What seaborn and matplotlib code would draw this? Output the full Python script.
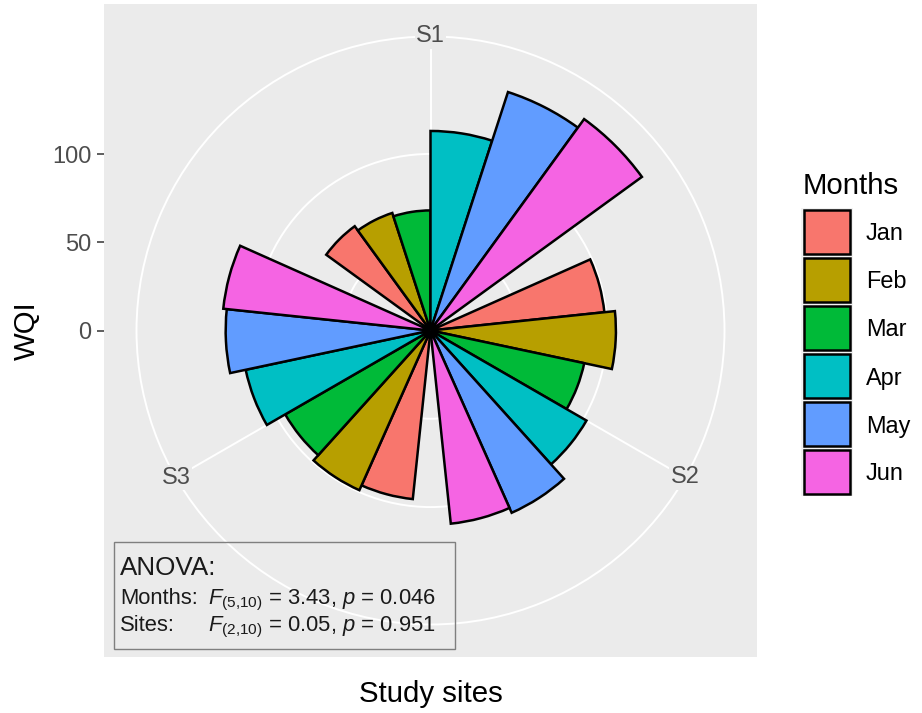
import numpy as np
import pandas as pd
import matplotlib
matplotlib.use("Agg")
import matplotlib.pyplot as plt
import seaborn as sns
from matplotlib.patches import Rectangle

# ---------------- data ----------------
sites = ["S1", "S2", "S3"]
months = ["Jan", "Feb", "Mar", "Apr", "May", "Jun"]
wqi_s1 = [73, 70, 68, 113, 142, 148]
wqi_s2 = [99, 105, 89, 102, 113, 110]
wqi_s3 = [96, 99, 95, 107, 116, 118]
month_colors = ["#F8766D", "#B79F00", "#00BA38", "#00BFC4", "#619CFF", "#F564E3"]
r_ticks = [0, 50, 100]
anova_title = "ANOVA:"
anova_labels = ["Months:", "Sites:"]
anova_stats = ["$F_{(5{,}10)}$ = 3.43, $p$ = 0.046",
               "$F_{(2{,}10)}$ = 0.05, $p$ = 0.951"]

plt.rcParams["font.family"] = ["Liberation Sans", "DejaVu Sans"]
plt.rcParams["mathtext.fontset"] = "custom"
plt.rcParams["mathtext.rm"] = "Liberation Sans"
plt.rcParams["mathtext.it"] = "Liberation Sans:italic"

# dodge width 0.9 of each site slot, as in ggplot position_dodge
slot = 360 / len(sites)
bar_w = slot * 0.9 / len(months)
rows = []
for si, (site, vals) in enumerate(zip(sites, [wqi_s1, wqi_s2, wqi_s3])):
    for mi, (m, v) in enumerate(zip(months, vals)):
        ang = (si * slot + (mi - (len(months) - 1) / 2) * bar_w) % 360
        rows.append(dict(site=site, Months=m, theta=np.deg2rad(ang), WQI=v))
df = pd.DataFrame(rows)
vmax = df["WQI"].max()
rmax = vmax * 0.45 / 0.4

W, H = 922, 713
fig = plt.figure(figsize=(W / 100, H / 100), dpi=100)
fig.patch.set_facecolor("white")


def px_axes(l, t, w, h, **kw):
    return fig.add_axes([l / W, 1 - (t + h) / H, w / W, h / H], **kw)


# panel background + radial axis labels
bg = px_axes(104, 4, 653, 653)
bg.set_facecolor("#EBEBEB")
bg.set_xlim(-0.5, 0.5)
bg.set_ylim(-0.5, 0.5)
for s in bg.spines.values():
    s.set_visible(False)
bg.set_xticks([])
bg.set_yticks([v / vmax * 0.4 for v in r_ticks])
bg.set_yticklabels([str(v) for v in r_ticks])
bg.tick_params(axis="y", length=4.7, width=1.1, color="#333333", pad=4.3,
               labelsize=17, labelcolor="#4D4D4D")

# polar bars
pax = px_axes(136.5, 36.5, 588, 588, projection="polar")
pax.set_facecolor("none")
pax.set_axisbelow(True)
pax.set_theta_zero_location("N")
pax.set_theta_direction(-1)
sns.barplot(data=df, x="theta", y="WQI", hue="Months", hue_order=months,
            palette=dict(zip(months, month_colors)), native_scale=True,
            orient="x", width=1, dodge=False, saturation=1, errorbar=None,
            edgecolor="black", linewidth=1.8, legend=False, ax=pax)
for p in pax.patches:
    p.set_zorder(2)
pax.set_ylim(0, rmax)
pax.set_xticks(np.deg2rad(np.arange(len(sites)) * slot))
pax.set_xticklabels([])
pax.set_yticks([t for t in r_ticks if t > 0])
pax.set_yticklabels([])
pax.grid(True, color="white", linewidth=1.4)
pax.xaxis.grid(True, zorder=0.5)
pax.spines["polar"].set_color("white")
pax.spines["polar"].set_linewidth(1.4)
pax.spines["polar"].set_zorder(0.5)
pax.set_xlabel("")
pax.set_ylabel("")
for i, s in enumerate(sites):
    pax.text(np.deg2rad(i * slot), rmax, s, ha="center", va="center",
             fontsize=17, color="#4D4D4D", clip_on=False, zorder=3,
             bbox=dict(facecolor="#EBEBEB", edgecolor="none", pad=1))

# overlay for titles, legend, annotation
ov = fig.add_axes([0, 0, 1, 1])
ov.set_xlim(0, W)
ov.set_ylim(H, 0)
ov.axis("off")
ov.patch.set_alpha(0)

ov.text(35, 331, "WQI", rotation=90, rotation_mode="anchor", ha="center",
        va="baseline", fontsize=21.2)
ov.text(430.5, 701.5, "Study sites", ha="center", va="baseline", fontsize=21.2)

# legend
ov.text(803, 194, "Months", fontsize=21.2, va="baseline")
ov.add_patch(Rectangle((801, 208), 52, 288, facecolor="#F2F2F2", edgecolor="none"))
for i, (m, c) in enumerate(zip(months, month_colors)):
    top = 210 + i * 48
    ov.add_patch(Rectangle((803.5, top), 46.5, 44, facecolor=c, edgecolor="black", lw=1.8))
    ov.text(866, top + 22 + 8.5, m, fontsize=16.9, va="baseline")

# ANOVA box
ov.add_patch(Rectangle((113.5, 541.5), 341.5, 107, facecolor="none",
                       edgecolor="#7F7F7F", lw=1))
ov.text(120, 575, anova_title, fontsize=18.7, va="baseline", color="#1A1A1A")
for j, (lab, stat) in enumerate(zip(anova_labels, anova_stats)):
    y = 604 + j * 27
    ov.text(120, y, lab, fontsize=15.8, va="baseline", color="#1A1A1A")
    ov.text(208, y, stat, fontsize=15.8, va="baseline", color="#1A1A1A")

fig.savefig("out.png", dpi=100)
